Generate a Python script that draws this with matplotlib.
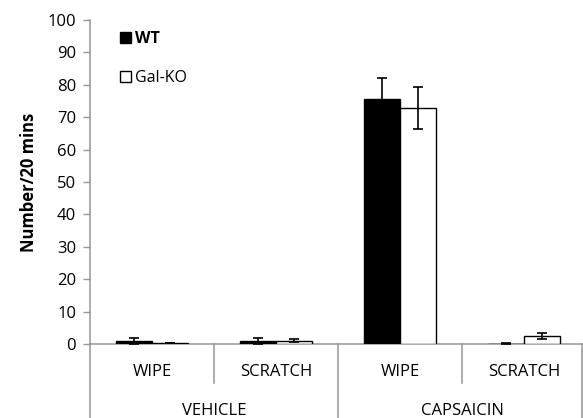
import numpy as np
import matplotlib.pyplot as plt
from matplotlib.patches import Patch

plt.rcParams['font.family'] = ['Open Sans', 'DejaVu Sans']

# data
treatments = ['VEHICLE', 'CAPSAICIN']
behaviours = ['WIPE', 'SCRATCH', 'WIPE', 'SCRATCH']
wt_mean = [0.8, 0.8, 75.6, 0.1]
wt_err = [1.0, 1.0, 6.6, 0.2]
ko_mean = [0.3, 1.0, 72.8, 2.4]
ko_err = [0.0, 0.4, 6.5, 1.0]
series_names = ['WT', 'Gal-KO']
yticks = [0, 10, 20, 30, 40, 50, 60, 70, 80, 90, 100]

grey = '#969696'

fig = plt.figure(figsize=(5.83, 4.18), dpi=100)
# axis box: x from 90 px to the right edge, y 0 at 344 px, 100 at 20 px
ax = fig.add_axes([90 / 583, 74 / 418, 493 / 583, 324 / 418])

x = np.arange(len(behaviours))
w = 0.29
ax.bar(x - w / 2, wt_mean, w, color='black', edgecolor='black', linewidth=1.0,
       yerr=wt_err, capsize=3.5, error_kw=dict(elinewidth=1.2, capthick=1.2, ecolor='black'))
ax.bar(x + w / 2, ko_mean, w, color='white', edgecolor='black', linewidth=1.0,
       yerr=ko_err, capsize=3.5, error_kw=dict(elinewidth=1.2, capthick=1.2, ecolor='black'))

ax.set_xlim(-0.5, -0.5 + 493 / 124)
ax.set_ylim(0, 100)
ax.set_yticks(yticks)
ax.tick_params(axis='y', direction='out', length=5, width=1, color=grey,
               labelsize=12, pad=5)
ax.set_xticks([])
for s in ['top', 'right']:
    ax.spines[s].set_visible(False)
for s in ['left', 'bottom']:
    ax.spines[s].set_color(grey)
    ax.spines[s].set_linewidth(1.1)
    ax.spines[s].set_zorder(0.5)

ax.set_ylabel('Number/20 mins', fontsize=12, fontweight='bold', labelpad=7)

# two-level category axis below the plot
tr = ax.get_xaxis_transform()
bottom = -74 / 324
ax.plot([-0.5, -0.5], [0, bottom], color=grey, lw=1.1, transform=tr, clip_on=False)
for sep in [0.5, 2.5]:
    ax.plot([sep, sep], [0, -39 / 324], color=grey, lw=1.1, transform=tr, clip_on=False)
for sep in [1.5, 3.47]:
    ax.plot([sep, sep], [0, bottom], color=grey, lw=1.1, transform=tr, clip_on=False)
for xi, lab in zip(x, behaviours):
    ax.text(xi, -28 / 324, lab, transform=tr, ha='center', va='center', fontsize=12)
for i, lab in enumerate(treatments):
    ax.text(0.5 + 2 * i, -67 / 324, lab, transform=tr, ha='center', va='center', fontsize=12)

handles = [Patch(facecolor='black', edgecolor='black'),
           Patch(facecolor='white', edgecolor='black')]
leg = ax.legend(handles, series_names, loc='upper left', bbox_to_anchor=(0.061, 0.965),
                frameon=False, fontsize=11.5, handlelength=0.7, handleheight=0.7,
                handletextpad=0.25, labelspacing=1.45, borderpad=0, borderaxespad=0)
leg.get_texts()[0].set_fontweight('bold')

fig.savefig('out.png', dpi=100)
